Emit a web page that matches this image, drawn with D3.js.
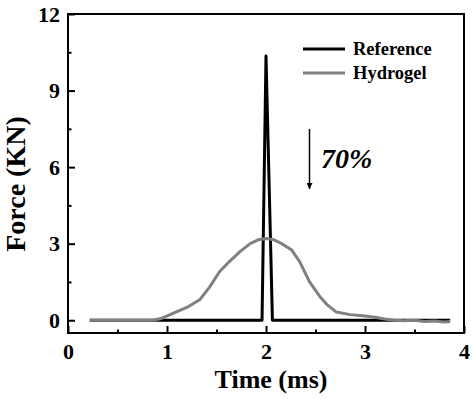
<!DOCTYPE html>
<html>
<head>
<meta charset="utf-8">
<script src="https://cdn.jsdelivr.net/npm/d3@7"></script>
<style>
  body { margin: 0; background: #fff; }
  text { font-family: "Liberation Serif", "Times New Roman", serif; font-weight: bold; fill: #000; }
</style>
</head>
<body>
<div id="chart"></div>
<script>
// data: time in ms, force in kN
var refTime  = [0.22, 1.96, 2.0, 2.065, 3.86];
var refForce = [0, 0, 10.35, 0, 0];

var gelTime  = [0.22, 0.5, 0.86, 0.95, 1.06, 1.2, 1.33, 1.43, 1.53, 1.63, 1.74, 1.84, 1.92, 2.0, 2.08, 2.16, 2.26, 2.34, 2.44, 2.55, 2.62, 2.71, 2.85, 3.0, 3.1, 3.2, 3.29, 3.4, 3.5, 3.6, 3.7, 3.8, 3.86];
var gelForce = [0, 0, 0, 0.08, 0.27, 0.5, 0.8, 1.3, 1.9, 2.3, 2.7, 3.0, 3.15, 3.2, 3.15, 3.0, 2.75, 2.3, 1.5, 0.9, 0.6, 0.32, 0.22, 0.17, 0.12, 0.05, 0, -0.02, 0, -0.05, -0.03, -0.07, -0.05];

var xMajor = [0, 1, 2, 3, 4];
var xMinor = [0.5, 1.5, 2.5, 3.5];
var yMajor = [0, 3, 6, 9, 12];
var yMinor = [1.5, 4.5, 7.5, 10.5];

var seriesNames = ["Reference", "Hydrogel"];
var seriesColors = ["#000000", "#808080"];

var width = 474, height = 399;
var margin = { top: 14, right: 10, bottom: 66, left: 68 };
var w = width - margin.left - margin.right,
    h = height - margin.top - margin.bottom;

var svg = d3.select("#chart").append("svg")
    .attr("width", width)
    .attr("height", height);

var g = svg.append("g")
    .attr("transform", "translate(" + margin.left + "," + margin.top + ")");

var x = d3.scaleLinear().domain([0, 4]).range([0, w]);
var y = d3.scaleLinear().domain([-0.5, 12]).range([h, 0]);

var line = d3.line()
    .x(function (d) { return x(d[0]); })
    .y(function (d) { return y(d[1]); });

var refData = d3.zip(refTime, refForce);
var gelData = d3.zip(gelTime, gelForce);

// reference under, hydrogel on top
g.append("path")
    .datum(refData)
    .attr("d", line)
    .attr("fill", "none")
    .attr("stroke", seriesColors[0])
    .attr("stroke-width", 3)
    .attr("stroke-linejoin", "round");

g.append("path")
    .datum(gelData)
    .attr("d", line)
    .attr("fill", "none")
    .attr("stroke", seriesColors[1])
    .attr("stroke-width", 3)
    .attr("stroke-linejoin", "round");

// axes, ticks inward
var xAxis = g.append("g")
    .attr("transform", "translate(0," + h + ")")
    .call(d3.axisBottom(x).tickValues(xMajor).tickSize(-7).tickPadding(10).tickFormat(d3.format("d")));
var xAxisMinor = g.append("g")
    .attr("transform", "translate(0," + h + ")")
    .call(d3.axisBottom(x).tickValues(xMinor).tickSize(-3.5).tickFormat(""));

var yAxis = g.append("g")
    .call(d3.axisLeft(y).tickValues(yMajor).tickSize(-7).tickPadding(8).tickFormat(d3.format("d")));
var yAxisMinor = g.append("g")
    .call(d3.axisLeft(y).tickValues(yMinor).tickSize(-3.5).tickFormat(""));

[xAxis, xAxisMinor, yAxis, yAxisMinor].forEach(function (a) {
    a.select(".domain").remove();
    a.selectAll("line").attr("stroke", "#000").attr("stroke-width", 2);
    a.selectAll("text").attr("font-size", 22).attr("font-family", "Liberation Serif").attr("font-weight", "bold");
});

// frame
g.append("rect")
    .attr("x", 0).attr("y", 0)
    .attr("width", w).attr("height", h)
    .attr("fill", "none")
    .attr("stroke", "#000")
    .attr("stroke-width", 2);

// axis titles
svg.append("text")
    .attr("x", 271).attr("y", 388)
    .attr("text-anchor", "middle")
    .attr("font-size", 26)
    .text("Time (ms)");

svg.append("text")
    .attr("transform", "translate(25,184) rotate(-90)")
    .attr("text-anchor", "middle")
    .attr("font-size", 28)
    .text("Force (KN)");

// legend
var legend = svg.append("g");
seriesNames.forEach(function (name, i) {
    var ly = 49 + i * 24;
    legend.append("line")
        .attr("x1", 303).attr("x2", 345)
        .attr("y1", ly).attr("y2", ly)
        .attr("stroke", seriesColors[i])
        .attr("stroke-width", 3);
    legend.append("text")
        .attr("x", 353).attr("y", ly + 6)
        .attr("font-size", 18.5)
        .text(name);
});

// reduction arrow
svg.append("defs").append("marker")
    .attr("id", "head")
    .attr("viewBox", "0 0 10 10")
    .attr("refX", 10).attr("refY", 5)
    .attr("markerWidth", 6).attr("markerHeight", 6)
    .attr("markerUnits", "userSpaceOnUse")
    .attr("orient", "auto")
    .append("path")
    .attr("d", "M0,0 L10,5 L0,10 Z")
    .attr("fill", "#000");

svg.append("line")
    .attr("x1", 309.5).attr("x2", 309.5)
    .attr("y1", 129).attr("y2", 189)
    .attr("stroke", "#000")
    .attr("stroke-width", 1.5)
    .attr("marker-end", "url(#head)");

svg.append("text")
    .attr("x", 321).attr("y", 168)
    .attr("font-size", 28)
    .attr("font-style", "italic")
    .text("70%");
</script>
</body>
</html>
